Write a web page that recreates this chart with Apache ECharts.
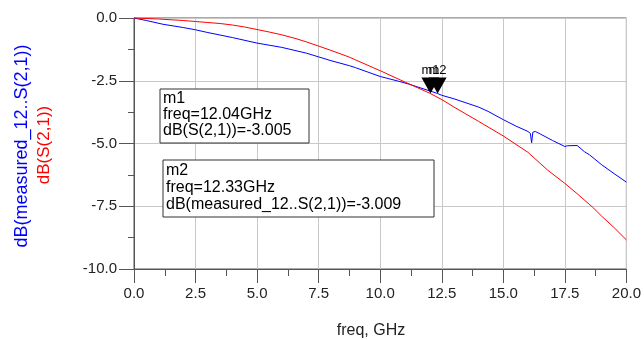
<!DOCTYPE html>
<html>
<head>
<meta charset="utf-8">
<script src="https://cdn.jsdelivr.net/npm/echarts@6/dist/echarts.min.js"></script>
<style>
  html, body { margin: 0; padding: 0; background: #fff; }
  #graph { width: 644px; height: 340px; }
</style>
</head>
<body>
<div id="graph"></div>
<script>
var myChart = echarts.init(document.getElementById('graph'));

// simulated dB(S(2,1)) - red
var freqSim = [0, 1, 2, 2.5, 3, 3.5, 4, 4.5, 5, 5.5, 6, 6.5, 7, 7.5, 8, 8.75, 9, 10, 11, 12, 12.04, 12.5, 13, 14, 15, 16, 16.8, 17.5, 18, 18.63, 19, 19.5, 20];
var dbSim = [0, -0.04, -0.1, -0.14, -0.18, -0.22, -0.28, -0.36, -0.46, -0.56, -0.67, -0.8, -0.95, -1.12, -1.29, -1.56, -1.67, -2.1, -2.55, -2.99, -3.005, -3.25, -3.55, -4.12, -4.7, -5.35, -6.06, -6.59, -7.0, -7.54, -7.9, -8.35, -8.84];

// measured_12..S(2,1) - blue
var freqMeas = [0, 0.5, 1.18, 2, 2.5, 3, 4, 5, 6, 7, 7.5, 8, 8.75, 9, 10, 10.75, 11.15, 12, 12.33, 12.5, 13, 14, 14.38, 15, 15.5, 16, 16.1, 16.15, 16.2, 16.3, 16.5, 17, 17.5, 17.6, 18.0, 18.3, 18.5, 19, 19.5, 20];
var dbMeas = [0, -0.1, -0.25, -0.38, -0.47, -0.58, -0.78, -1.0, -1.17, -1.4, -1.55, -1.7, -1.9, -1.98, -2.33, -2.52, -2.63, -2.9, -3.009, -3.08, -3.22, -3.55, -3.72, -4.05, -4.3, -4.52, -4.6, -4.97, -4.55, -4.52, -4.62, -4.88, -5.12, -5.09, -5.08, -5.33, -5.45, -5.85, -6.2, -6.54];

// markers
var m1 = [12.04, -3.005];
var m2 = [12.33, -3.009];

function pairs(xs, ys) {
  var out = [];
  for (var i = 0; i < xs.length; i++) out.push([xs[i], ys[i]]);
  return out;
}

var font = 'Liberation Sans';
var tri = 'path://M0,0 L18,0 L9,16 Z';

var option = {
  animation: false,
  grid: {
    left: 134, top: 18, right: 15, bottom: 71,
    show: true, borderColor: '#555', borderWidth: 1
  },
  xAxis: {
    type: 'value', min: 0, max: 20, interval: 2.5,
    axisLine: { onZero: false, lineStyle: { color: '#555' } },
    axisTick: { length: 14, lineStyle: { color: '#555' } },
    minorTick: { show: true, splitNumber: 2, length: 7, lineStyle: { color: '#555' } },
    splitLine: { lineStyle: { color: '#c8c8c8' } },
    axisLabel: { margin: 17, color: '#222', fontFamily: font, fontSize: 15,
      formatter: function (v) { return v.toFixed(1); } }
  },
  yAxis: {
    type: 'value', min: -10, max: 0, interval: 2.5,
    axisLine: { show: true, onZero: false, lineStyle: { color: '#555' } },
    axisTick: { show: true, length: 15, lineStyle: { color: '#555' } },
    minorTick: { show: true, splitNumber: 2, length: 6, lineStyle: { color: '#555' } },
    splitLine: { lineStyle: { color: '#c8c8c8' } },
    axisLabel: { margin: 17, color: '#222', fontFamily: font, fontSize: 15,
      formatter: function (v) { return v.toFixed(1); } }
  },
  series: [
    {
      name: 'dB(measured_12..S(2,1))',
      type: 'line',
      data: pairs(freqMeas, dbMeas),
      showSymbol: false,
      lineStyle: { color: '#0000ff', width: 1 },
      itemStyle: { color: '#0000ff' },
      markPoint: {
        symbol: tri, symbolSize: [18, 16], symbolOffset: [0, '-50%'],
        itemStyle: { color: '#000' },
        label: { show: true, position: 'top', distance: 1, color: '#000',
          fontFamily: font, fontSize: 13, formatter: 'm2' },
        data: [{ coord: m2 }]
      }
    },
    {
      name: 'dB(S(2,1))',
      type: 'line',
      data: pairs(freqSim, dbSim),
      showSymbol: false,
      lineStyle: { color: '#ff0000', width: 1 },
      itemStyle: { color: '#ff0000' },
      markPoint: {
        symbol: tri, symbolSize: [18, 16], symbolOffset: [0, '-50%'],
        itemStyle: { color: '#000' },
        label: { show: true, position: 'top', distance: 1, color: '#000',
          fontFamily: font, fontSize: 13, formatter: 'm1' },
        data: [{ coord: m1 }]
      }
    }
  ],
  graphic: [
    // y axis titles
    { type: 'text', x: 22, y: 146, rotation: Math.PI / 2,
      style: { text: 'dB(measured_12..S(2,1))', fill: '#0000ff', font: '18px ' + font,
        textAlign: 'center', textVerticalAlign: 'middle' } },
    { type: 'text', x: 44, y: 145, rotation: Math.PI / 2,
      style: { text: 'dB(S(2,1))', fill: '#ff0000', font: '17px ' + font,
        textAlign: 'center', textVerticalAlign: 'middle' } },
    // x axis title
    { type: 'text', x: 371, y: 331,
      style: { text: 'freq, GHz', fill: '#222', font: '16px ' + font,
        textAlign: 'center', textVerticalAlign: 'middle' } },
    // marker boxes
    { type: 'rect', shape: { x: 160, y: 89, width: 149, height: 54 },
      style: { fill: '#fff', stroke: '#333', lineWidth: 1 }, z: 100 },
    { type: 'text', x: 163, y: 91, z: 101,
      style: { text: 'm1\nfreq=12.04GHz\ndB(S(2,1))=-3.005', fill: '#000',
        font: '16px ' + font, lineHeight: 16 } },
    { type: 'rect', shape: { x: 163, y: 160, width: 271, height: 57 },
      style: { fill: '#fff', stroke: '#333', lineWidth: 1 }, z: 100 },
    { type: 'text', x: 166, y: 162, z: 101,
      style: { text: 'm2\nfreq=12.33GHz\ndB(measured_12..S(2,1))=-3.009', fill: '#000',
        font: '16px ' + font, lineHeight: 17 } }
  ]
};
myChart.setOption(option);
</script>
</body>
</html>
